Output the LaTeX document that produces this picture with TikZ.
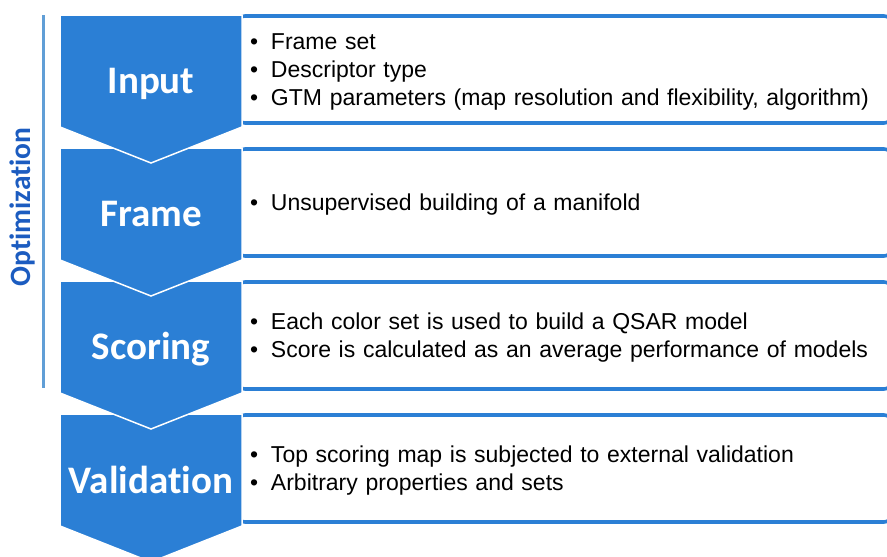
\documentclass[tikz,border=0pt]{standalone}
\usepackage{fontspec}
\setmainfont[Ligatures=NoCommon]{Liberation Sans}
\newfontfamily\stagefont[Ligatures=NoCommon]{Carlito}
\usetikzlibrary{positioning}
\definecolor{stageblue}{RGB}{43,127,213}
\definecolor{railblue}{RGB}{96,158,214}
\definecolor{optblue}{RGB}{28,92,192}
\newcommand{\stepitem}[1]{\rule[-6pt]{0pt}{28pt}\makebox[21pt][l]{\textbullet}#1}

\begin{document}
\begin{tikzpicture}[
    x=1pt, y=-1pt,
    chevron/.style={
        fill=stageblue, draw=white, line width=1.5pt, line join=miter
    },
    stage/.style={
        anchor=base, inner sep=0pt, text=white,
        font=\stagefont\bfseries\fontsize{39}{39}\selectfont
    },
    infobox/.style={
        draw=stageblue, line width=3.6pt, fill=white, rounded corners=8pt,
        minimum width=655pt, minimum height=107pt, inner xsep=13pt,
        inner ysep=0pt, text width=629pt, align=left,
        font=\fontsize{23}{28}\selectfont
    },
    rail/.style={draw=railblue, line width=3pt},
    railtext/.style={
        rotate=90, text=optblue,
        font=\stagefont\bfseries\fontsize{29.5}{29.5}\selectfont
    }
]

% ---- Page: same proportions as the reference ----
\useasboundingbox (0,0) rectangle (887,557);

% ---- Right-hand detail boxes (under the chevrons) ----
\node[infobox] (inputbox) at (564.5,69.5)
     {\stepitem{Frame set}\\
      \stepitem{Descriptor type}\\
      \stepitem{GTM parameters (map resolution and flexibility, algorithm)}};
\node[infobox] (framebox) at (564.5,202.5)
     {\stepitem{Unsupervised building of a manifold}};
\node[infobox] (scorebox) at (564.5,335.5)
     {\stepitem{Each color set is used to build a QSAR model}\\
      \stepitem{Score is calculated as an average performance of models}};
\node[infobox] (validbox) at (564.5,468.5)
     {\stepitem{Top scoring map is subjected to external validation}\\
      \stepitem{Arbitrary properties and sets}};

% ---- Chevrons, lowest first so each point lies over the next one ----
\draw[chevron] (60,414) -- (242,414) -- (242,526) -- (151,562) -- (60,526) -- cycle;
\draw[chevron] (60,281) -- (242,281) -- (242,393) -- (151,429) -- (60,393) -- cycle;
\draw[chevron] (60,148) -- (242,148) -- (242,260) -- (151,296) -- (60,260) -- cycle;
\draw[chevron] (60,15)  -- (242,15)  -- (242,127) -- (151,163) -- (60,127) -- cycle;

% ---- Stage labels ----
\node[stage] (input)  at (151,93)  {Input};
\node[stage] (frame)  at (151,226) {Frame};
\node[stage] (scoring) at (151,359) {Scoring};
\node[stage] (valid)  at (151,493) {Validation};

% ---- Optimization loop marker ----
\coordinate (railtop) at (43,15);
\coordinate (railend) at (43,388);
\draw[rail] (railtop) -- (railend);
\node[railtext] (opt) at (22,207) {Optimization};

\end{tikzpicture}
\end{document}
